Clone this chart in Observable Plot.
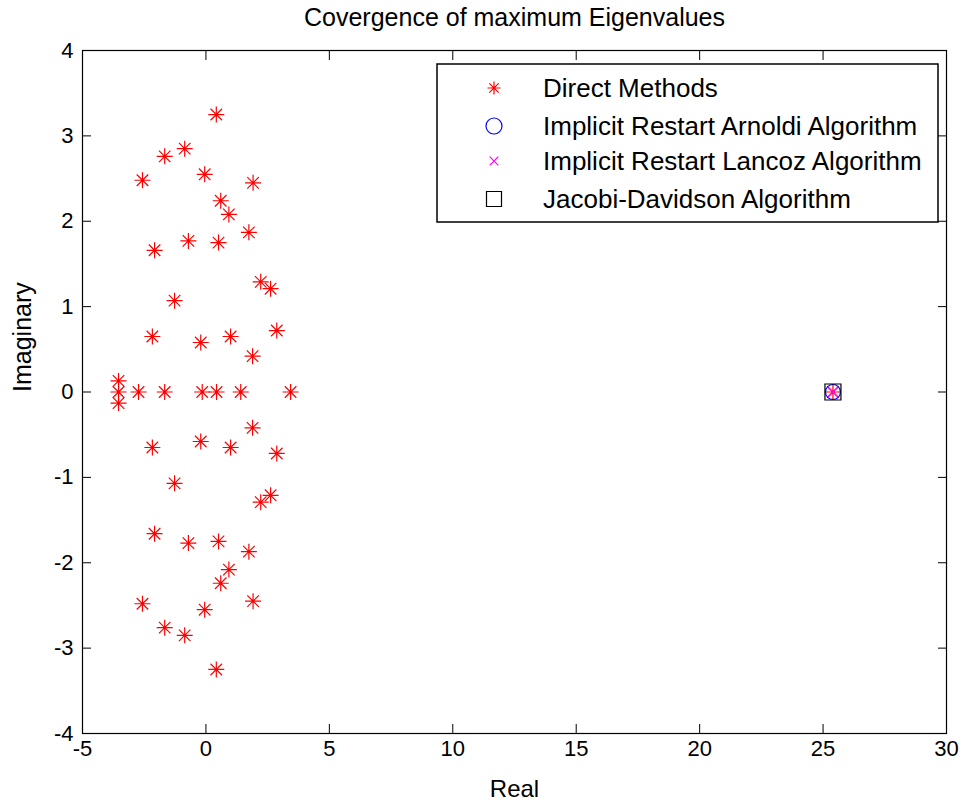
<!DOCTYPE html>
<html><head><meta charset="utf-8">
<script src="https://cdn.jsdelivr.net/npm/d3@7"></script>
<script src="https://cdn.jsdelivr.net/npm/@observablehq/plot@0.6"></script>
<style>body{margin:0;background:#fff;} #chart svg{display:block;}</style>
</head><body><div id="chart"></div>
<script>
// Direct method eigenvalues (real, imaginary parts)
const directReal = [
  0.42, -0.86, -1.67, -2.57, -0.05, 1.91, 0.60, 0.93, 1.74, -0.71, 0.51, -2.08, 2.22, 2.62, -1.27, 2.87, -2.17, 1.00, -0.21, 1.89, -3.54,
  0.42, -0.86, -1.67, -2.57, -0.05, 1.91, 0.60, 0.93, 1.74, -0.71, 0.51, -2.08, 2.22, 2.62, -1.27, 2.87, -2.17, 1.00, -0.21, 1.89, -3.54,
  -3.54, -2.73, -1.67, -0.15, 0.43, 1.41, 3.43, 25.4
];
const directImag = [
  3.25, 2.85, 2.76, 2.48, 2.55, 2.45, 2.24, 2.08, 1.87, 1.77, 1.75, 1.66, 1.29, 1.21, 1.07, 0.72, 0.65, 0.65, 0.58, 0.42, 0.13,
  -3.25, -2.85, -2.76, -2.48, -2.55, -2.45, -2.24, -2.08, -1.87, -1.77, -1.75, -1.66, -1.29, -1.21, -1.07, -0.72, -0.65, -0.65, -0.58, -0.42, -0.13,
  0, 0, 0, 0, 0, 0, 0, 0
];
const arnoldiReal = [25.4];
const arnoldiImag = [0];
const lanczosReal = [25.4];
const lanczosImag = [0];
const jdReal = [25.4];
const jdImag = [0];

const xTicks = [-5, 0, 5, 10, 15, 20, 25, 30];
const yTicks = [-4, -3, -2, -1, 0, 1, 2, 3, 4];

const titleText = "Covergence of maximum Eigenvalues";
const xLabel = "Real";
const yLabel = "Imaginary";
const legendLabels = ["Direct Methods", "Implicit Restart Arnoldi Algorithm", "Implicit Restart Lancoz Algorithm", "Jacobi-Davidson Algorithm"];

const toRows = (xs, ys) => xs.map((x, i) => ({x, y: ys[i]}));
const direct = toRows(directReal, directImag);
const arnoldi = toRows(arnoldiReal, arnoldiImag);
const lanczos = toRows(lanczosReal, lanczosImag);
const jd = toRows(jdReal, jdImag);

const rad = s => Math.sqrt(s / Math.PI);
const asterisk = {draw(c, s) { const r = rad(s), d = r * 0.72;
  c.moveTo(-r, 0); c.lineTo(r, 0); c.moveTo(0, -r); c.lineTo(0, r);
  c.moveTo(-d, -d); c.lineTo(d, d); c.moveTo(-d, d); c.lineTo(d, -d); }};
const cross = {draw(c, s) { const d = rad(s) * 0.72;
  c.moveTo(-d, -d); c.lineTo(d, d); c.moveTo(-d, d); c.lineTo(d, -d); }};
const squareSym = {draw(c, s) { const r = rad(s); c.rect(-r, -r, 2 * r, 2 * r); }};

const font = "'Liberation Sans', Arial, Helvetica, sans-serif";
const fmt = d => String(d);

const plot = Plot.plot({
  width: 969, height: 806,
  marginLeft: 82, marginRight: 23, marginTop: 50, marginBottom: 73,
  style: {fontFamily: font, background: "white", color: "black"},
  x: {domain: [-5, 30], label: null},
  y: {domain: [-4, 4], label: null},
  marks: [
    Plot.frame({stroke: "black", strokeWidth: 1.2}),
    Plot.axisX(xTicks, {anchor: "bottom", tickSize: -9, tickFormat: () => "", label: null, stroke: "black"}),
    Plot.axisX(xTicks, {anchor: "top", tickSize: -9, tickFormat: () => "", label: null, stroke: "black"}),
    Plot.axisY(yTicks, {anchor: "left", tickSize: -9, tickFormat: () => "", label: null, stroke: "black"}),
    Plot.axisY(yTicks, {anchor: "right", tickSize: -9, tickFormat: () => "", label: null, stroke: "black"}),
    Plot.axisX(xTicks, {anchor: "bottom", tickSize: 0, tickPadding: 7, tickFormat: fmt, fontSize: 22, label: null, fill: "black"}),
    Plot.axisY(yTicks, {anchor: "left", tickSize: 0, tickPadding: 9, tickFormat: fmt, fontSize: 22, label: null, fill: "black"}),
    Plot.dot(direct, {x: "x", y: "y", symbol: asterisk, r: 8, stroke: "#ff0000", strokeWidth: 1.2, fill: "none"}),
    Plot.dot(arnoldi, {x: "x", y: "y", symbol: "circle", r: 7.5, stroke: "#0000ff", strokeWidth: 1.2, fill: "none"}),
    Plot.dot(lanczos, {x: "x", y: "y", symbol: cross, r: 7, stroke: "#ff00ff", strokeWidth: 1.2, fill: "none"}),
    Plot.dot(jd, {x: "x", y: "y", symbol: squareSym, r: 8, stroke: "black", strokeWidth: 1.2, fill: "none"}),
    Plot.text([titleText], {frameAnchor: "top", lineAnchor: "middle", dy: -33, fontSize: 25, fill: "black"}),
    Plot.text([xLabel], {frameAnchor: "bottom", lineAnchor: "middle", dy: 56, fontSize: 24, fill: "black"}),
    Plot.text([yLabel], {frameAnchor: "left", lineAnchor: "middle", dx: -60, rotate: -90, fontSize: 25, fill: "black"})
  ]
});
document.getElementById("chart").appendChild(plot);

// Legend box drawn inside the SVG
const svg = d3.select(plot);
const lg = svg.append("g").attr("transform", "translate(437,64)");
lg.append("rect").attr("width", 501).attr("height", 158).attr("fill", "white").attr("stroke", "black").attr("stroke-width", 1.5);
const rowsY = [24, 62, 97, 135];
const symbols = [asterisk, d3.symbolCircle, cross, squareSym];
const colors = ["#ff0000", "#0000ff", "#ff00ff", "black"];
const rs = [6.5, 8, 6, 7.5];
legendLabels.forEach((lab, i) => {
  const r = rs[i];
  lg.append("path")
    .attr("transform", `translate(57,${rowsY[i]})`)
    .attr("d", d3.symbol(symbols[i], r * r * Math.PI)())
    .attr("fill", "none").attr("stroke", colors[i]).attr("stroke-width", 1.2);
  lg.append("text").attr("x", 106).attr("y", rowsY[i]).attr("dy", "0.35em")
    .attr("text-anchor", "start")
    .attr("font-family", font).attr("font-size", 26).attr("fill", "black").text(lab);
});
</script></body></html>
